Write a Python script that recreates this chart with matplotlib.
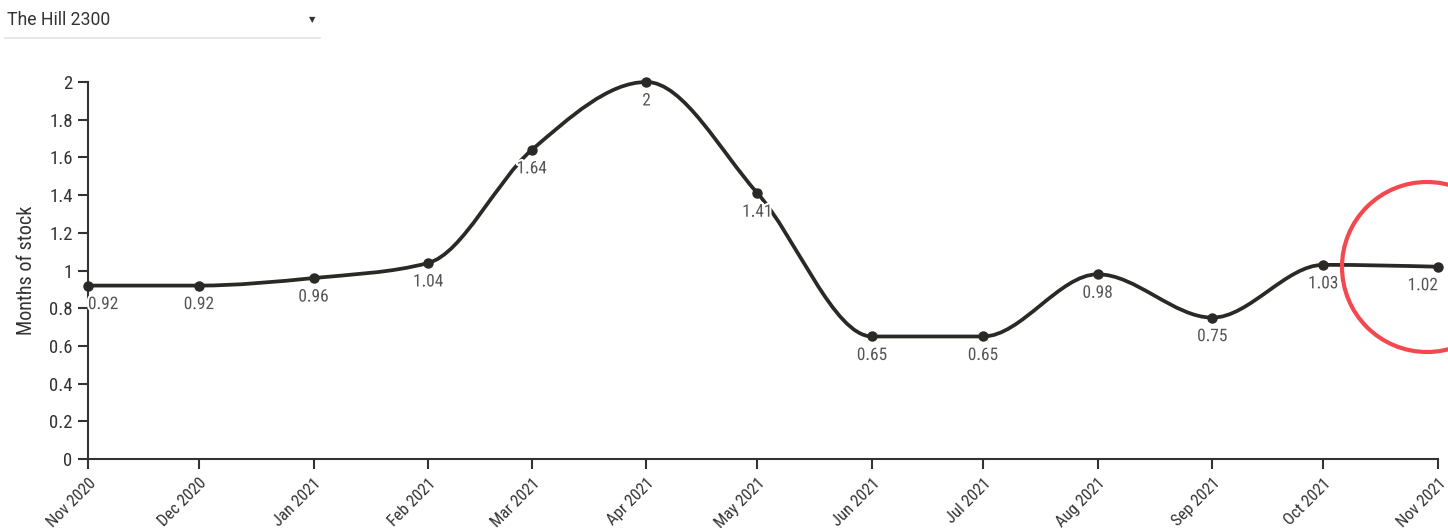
import numpy as np
import pandas as pd
import matplotlib
matplotlib.use("Agg")
import matplotlib.pyplot as plt
import matplotlib.dates as mdates
from matplotlib.path import Path
from matplotlib.patches import PathPatch, Ellipse
import matplotlib.patheffects as pe

# data
months = ["Nov 2020", "Dec 2020", "Jan 2021", "Feb 2021", "Mar 2021", "Apr 2021", "May 2021",
          "Jun 2021", "Jul 2021", "Aug 2021", "Sep 2021", "Oct 2021", "Nov 2021"]
stock = [0.92, 0.92, 0.96, 1.04, 1.64, 2, 1.41, 0.65, 0.65, 0.98, 0.75, 1.03, 1.02]
yticks = [0, 0.2, 0.4, 0.6, 0.8, 1, 1.2, 1.4, 1.6, 1.8, 2]

dates = pd.to_datetime(months, format="%b %Y")
xs = mdates.date2num(dates)
ys = np.array(stock, dtype=float)

plt.rcParams['font.family'] = ['Roboto Condensed', 'DejaVu Sans']

line_col = '#2b2925'
axis_col = '#333333'


def monotone_path(x, y):
    # d3 curveMonotoneX style bezier path
    n = len(x)
    h = np.diff(x)
    s = np.diff(y) / h
    t = np.zeros(n)
    for i in range(1, n - 1):
        p = (s[i - 1] * h[i] + s[i] * h[i - 1]) / (h[i - 1] + h[i])
        t[i] = (np.sign(s[i - 1]) + np.sign(s[i])) * min(abs(s[i - 1]), abs(s[i]), 0.5 * abs(p))
    t[0] = (3 * s[0] - t[1]) / 2
    t[-1] = (3 * s[-1] - t[-2]) / 2
    verts = [(x[0], y[0])]
    codes = [Path.MOVETO]
    for i in range(n - 1):
        dx = h[i] / 3
        verts += [(x[i] + dx, y[i] + dx * t[i]), (x[i + 1] - dx, y[i + 1] - dx * t[i + 1]), (x[i + 1], y[i + 1])]
        codes += [Path.CURVE4] * 3
    return Path(verts, codes)


fig = plt.figure(figsize=(14.48, 5.28), dpi=100)
ax = fig.add_axes([88 / 1448, 69 / 528, 1350 / 1448, 377 / 528])

ax.add_patch(PathPatch(monotone_path(xs, ys), fill=False, edgecolor=line_col, linewidth=2.7,
                       capstyle='round', joinstyle='round', zorder=2, clip_on=False))
ax.plot(xs, ys, 'o', color=line_col, markersize=6.5, zorder=3, clip_on=False)

for i, (x, y) in enumerate(zip(xs, ys)):
    ha = 'left' if i == 0 else ('right' if i == len(xs) - 1 else 'center')
    ax.annotate(f"{y:g}", (x, y), xytext=(0, -19), textcoords='offset pixels',
                ha=ha, va='center', fontsize=12.5, color='#555555', zorder=4,
                path_effects=[pe.withStroke(linewidth=3, foreground='white')])

ax.set_xlim(xs[0], xs[-1])
ax.set_ylim(0, 2)
ax.set_xticks(xs)
ax.set_xticklabels(months, rotation=45, ha='right', va='top', rotation_mode='anchor',
                   fontsize=12, color=axis_col)
ax.set_yticks(yticks)
ax.set_yticklabels([f"{v:g}" for v in yticks], fontsize=13.5, color=axis_col)
ax.tick_params(axis='both', length=7, width=1.5, color=axis_col)
ax.tick_params(axis='y', pad=4)
ax.tick_params(axis='x', pad=5)
for side in ['top', 'right']:
    ax.spines[side].set_visible(False)
for side in ['left', 'bottom']:
    ax.spines[side].set_color(axis_col)
    ax.spines[side].set_linewidth(1.5)
ax.set_ylabel("Months of stock", fontsize=14.5, color=axis_col)
ax.yaxis.set_label_coords(-0.0385, 0.5)

# dropdown header
fig.text(7 / 1448, 1 - 20 / 528, "The Hill 2300", fontsize=12.7, color='#333333', va='center', ha='left',
         family=['Roboto', 'DejaVu Sans'])
fig.text(312 / 1448, 1 - 20 / 528, "\u25BC", fontsize=6, color='#333333', va='center', ha='center',
         family='DejaVu Sans')
fig.add_artist(plt.Line2D([5 / 1448, 320 / 1448], [1 - 38 / 528, 1 - 38 / 528], color='#e2e2e2', linewidth=1.2))

# red highlight circle
fig.add_artist(Ellipse((1427 / 1448, 1 - 267 / 528), 170 / 1448, 170 / 528, transform=fig.transFigure,
                       fill=False, edgecolor='#f4484f', linewidth=3, clip_on=False, zorder=10))

fig.savefig("out.png", dpi=100)
